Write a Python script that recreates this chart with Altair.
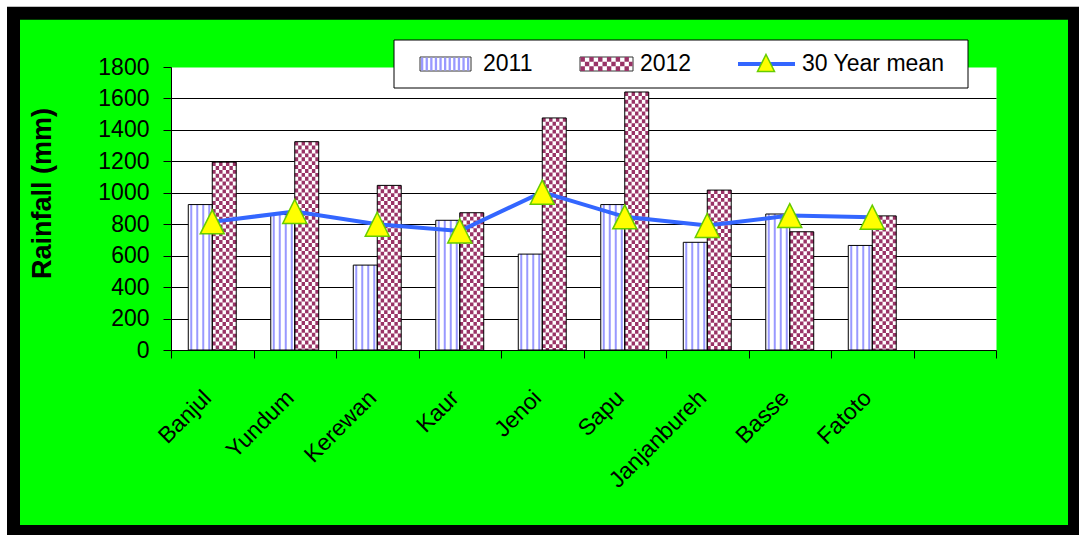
import altair as alt
import pandas as pd

# ---------------- data ----------------
stations = ["Banjul", "Yundum", "Kerewan", "Kaur", "Jenoi", "Sapu",
            "Janjanbureh", "Basse", "Fatoto"]
rain_2011 = [925, 862, 540, 825, 610, 925, 685, 865, 665]
rain_2012 = [1195, 1325, 1047, 873, 1476, 1641, 1017, 752, 853]
mean_30yr = [815, 881, 800, 757, 1004, 847, 792, 855, 845]
series_names = ["2011", "2012"]
mean_name = "30 Year mean"
y_ticks = [0, 200, 400, 600, 800, 1000, 1200, 1400, 1600, 1800]
y_title = "Rainfall (mm)"

category_domain = stations + [" "]

bars = pd.DataFrame({
    "station": stations * 2,
    "series": [series_names[0]] * len(stations) + [series_names[1]] * len(stations),
    "value": rain_2011 + rain_2012,
})
means = pd.DataFrame({"station": stations, "value": mean_30yr})

# ---------------- style ----------------
W, H = 825, 283
FONT = "Liberation Sans"
GREEN_BG = "#00ff00"
STRIPE = "#9999ff"
MAROON = "#993366"
LINE_BLUE = "#3366ff"
YELLOW = "#ffff00"
TRI_STROKE = "#66cc00"
TRI = "M0,-1L1,1L-1,1Z"
BW = 24.0          # bar width in px (sub-band)
D = 3.9            # checker square height in px

x_enc = alt.X(
    "station:N",
    scale=alt.Scale(domain=category_domain, paddingInner=0, paddingOuter=0),
    title="",
    axis=alt.Axis(
        labelAngle=315, labelAlign="right", labelBaseline="middle",
        labelPadding=36, labelOffset=-5, labelFont=FONT, labelFontSize=23,
        labelColor="black", tickBand="extent", tickSize=8, tickColor="black",
        domainColor="black", grid=False, labelOverlap=False,
    ),
)
xo_enc = alt.XOffset(
    "series:N",
    scale=alt.Scale(domain=series_names, paddingInner=0, paddingOuter=0.72),
)
y_enc = alt.Y(
    "value:Q",
    scale=alt.Scale(domain=[0, 1800], nice=False, zero=True),
    title=y_title,
    axis=alt.Axis(
        values=y_ticks, format="d", labelFont=FONT, labelFontSize=23,
        labelColor="black", labelPadding=14, tickSize=8, tickColor="black",
        domainColor="black", grid=True,
        gridColor={"condition": {"test": "datum.value == 0 || datum.value == 1800",
                                 "value": "transparent"},
                   "value": "black"},
        gridWidth=1, gridOpacity=1,
        titleFont=FONT, titleFontSize=27, titleFontWeight="bold",
        titleColor="black", titleAngle=270, titleAlign="center",
        titleBaseline="middle", titleX=-129, titleY=126,
    ),
)

base = alt.Chart(bars).encode(x=x_enc, xOffset=xo_enc, y=y_enc)
b2011 = base.transform_filter(alt.datum.series == series_names[0])
b2012 = base.transform_filter(alt.datum.series == series_names[1])

layers = [base.mark_bar(fill="white", strokeWidth=0)]

# vertical stripes for 2011 (concentric rules)
for w, c in [(20, STRIPE), (16, "white"), (8, STRIPE), (4, "white")]:
    layers.append(b2011.mark_rule(color=c, strokeWidth=w).encode(y2=alt.datum(0)))

# checkerboard for 2012 (concentric dashed rules)
for k, frac in enumerate([7, 5, 3, 1]):
    w = BW * frac / 7
    if k > 0:
        layers.append(b2012.mark_rule(color="white", strokeWidth=w).encode(y2=alt.datum(0)))
    layers.append(
        b2012.mark_rule(color=MAROON, strokeWidth=w, strokeDash=[D, D],
                        strokeDashOffset=(D if k % 2 else 0)).encode(y2=alt.datum(0))
    )

# bar outlines
layers.append(base.mark_bar(fill="transparent", stroke="black", strokeWidth=1))

# 30 year mean line + triangles
mean_base = alt.Chart(means).encode(x=x_enc, y=y_enc)
layers.append(mean_base.mark_line(color=LINE_BLUE, strokeWidth=4))
layers.append(mean_base.mark_point(shape=TRI, size=576, filled=True, fill=YELLOW,
                                   stroke=TRI_STROKE, strokeWidth=1.5, opacity=1))

# ---------------- legend (drawn by hand) ----------------
one = pd.DataFrame({"k": [0]})
leg = alt.Chart(one)
layers.append(leg.mark_rect(fill="white", stroke="black", strokeWidth=1).encode(
    x=alt.value(223), x2=alt.value(797), y=alt.value(-27), y2=alt.value(21)))

# 2011 swatch
layers.append(leg.mark_rect(fill="white", stroke="#333333", strokeWidth=1).encode(
    x=alt.value(249), x2=alt.value(300), y=alt.value(-10), y2=alt.value(4)))
layers.append(leg.mark_rule(color=STRIPE, strokeWidth=13, strokeDash=[2.3, 2.3]).encode(
    x=alt.value(250), x2=alt.value(299.5), y=alt.value(-3)))
# 2012 swatch
layers.append(leg.mark_rect(fill="white", stroke="#333333", strokeWidth=1).encode(
    x=alt.value(409), x2=alt.value(462), y=alt.value(-10), y2=alt.value(4)))
for i, yy in enumerate([-7.67, -3.0, 1.67]):
    layers.append(leg.mark_rule(color=MAROON, strokeWidth=4.67, strokeDash=[4.4, 4.4],
                                strokeDashOffset=(4.4 if i % 2 else 0)).encode(
        x=alt.value(409.5), x2=alt.value(461.5), y=alt.value(yy)))
# mean swatch
layers.append(leg.mark_rule(color=LINE_BLUE, strokeWidth=4).encode(
    x=alt.value(567), x2=alt.value(624), y=alt.value(-3)))
layers.append(leg.mark_point(shape=TRI, size=289, filled=True, fill=YELLOW,
                             stroke=TRI_STROKE, strokeWidth=1.5, opacity=1).encode(
    x=alt.value(595), y=alt.value(-4)))

for label, xx in [(series_names[0], 312), (series_names[1], 469), (mean_name, 631)]:
    layers.append(alt.Chart(pd.DataFrame({"label": [label]})).mark_text(
        align="left", baseline="middle", font=FONT, fontSize=23, color="black").encode(
        x=alt.value(xx), y=alt.value(-3), text="label:N"))

# ---------------- frame ----------------
layers.append(leg.mark_rect(fill="transparent", stroke="white", strokeWidth=8).encode(
    x=alt.value(-168), x2=alt.value(940), y=alt.value(-64), y2=alt.value(500)))
layers.append(leg.mark_rect(fill="transparent", stroke="black", strokeWidth=13).encode(
    x=alt.value(-157.5), x2=alt.value(903.5), y=alt.value(-53.75), y2=alt.value(464.5)))

chart = alt.layer(*layers).properties(
    width=W, height=H,
    autosize=alt.AutoSizeParams(type="none"),
    padding={"left": 171, "top": 67, "right": 83, "bottom": 185},
).configure(background=GREEN_BG).configure_view(fill="white", stroke="transparent")

chart.save("out.html", embed_options={"renderer": "svg", "actions": False})
